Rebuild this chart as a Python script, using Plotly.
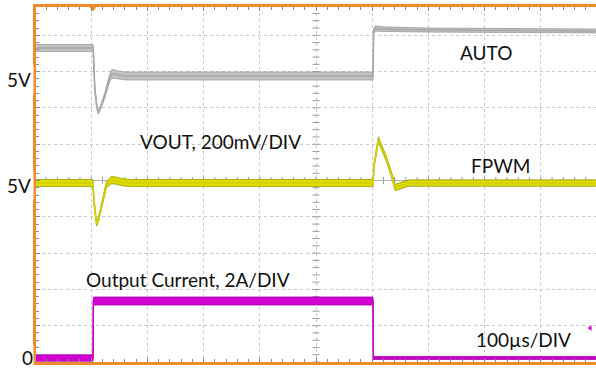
import numpy as np
import plotly.graph_objects as go

# ---------------- data read from the scope capture ----------------
# time axis in microseconds (100 us/DIV)
auto_t      = [0, 103.5, 106.5, 110, 112.5, 116, 124.5, 133, 137, 145, 160, 601.5, 602.5, 606, 620, 700, 998]
auto_v      = [5.154, 5.154, 4.93, 4.83, 4.80, 4.82, 4.895, 4.99, 5.012, 5.008, 5.0, 5.0, 5.245, 5.262, 5.258, 5.253, 5.248]
auto_ripple = [0.039, 0.039, 0.02, 0.02, 0.02, 0.02, 0.03, 0.04, 0.05, 0.044, 0.044, 0.044, 0.03, 0.03, 0.025, 0.022, 0.022]

fpwm_t      = [0, 103, 105, 109.5, 113, 120, 127, 135, 142, 155, 170, 601.5, 603.5, 611, 618, 626, 634, 641, 650, 665, 998]
fpwm_v      = [5.0, 5.0, 4.9, 4.775, 4.80, 4.90, 4.99, 5.015, 5.015, 5.005, 5.0, 5.0, 5.10, 5.24, 5.185, 5.127, 5.05, 4.975, 4.985, 5.0, 5.0]
fpwm_ripple = [0.039, 0.039, 0.03, 0.025, 0.025, 0.03, 0.035, 0.04, 0.04, 0.039, 0.039, 0.039, 0.03, 0.03, 0.03, 0.03, 0.03, 0.035, 0.035, 0.035, 0.035]

iout_t      = [0, 103.3, 103.8, 601.5, 602, 998]
iout_a      = [0, 0, 3.14, 3.14, 0, 0]
iout_ripple = [0.36, 0.36, 0.44, 0.44, 0.17, 0.17]

trigger_time = 103
trigger_level_a = 1.65

labels = {
    "auto": "AUTO",
    "vout": "VOUT, 200mV/DIV",
    "fpwm": "FPWM",
    "iout": "Output Current, 2A/DIV",
    "time": "100µs/DIV",
}

# ---------------- scope screen geometry ----------------
ORANGE = "#f08c2c"
N_DIV_Y = 9.78            # visible vertical divisions
X_RANGE = [1.8, 998.2]
L_MARGIN, PLOT_W = 36, 560
# channel setup: (reference level, scale per div, reference position in div)
ch_auto = (5.0, 0.2, 7.88)
ch_fpwm = (5.0, 0.2, 4.93)
ch_iout = (0.0, 2.0, 0.11)

def ch_range(ch):
    ref, scale, pos = ch
    return [ref - pos * scale, ref + (N_DIV_Y - pos) * scale]

fig = go.Figure()

# reticle centre lines and ticks
fig.add_trace(go.Scatter(x=X_RANGE, y=[5, 5], mode="lines",
                         line=dict(color="#b0b0b0", width=1), hoverinfo="skip", showlegend=False))
tx = np.arange(0, 1000, 20)
fig.add_trace(go.Scatter(x=tx, y=np.full(len(tx), 5.0), mode="markers",
                         marker=dict(symbol="line-ns", size=5, line=dict(color="#9a9a9a", width=1)),
                         hoverinfo="skip", showlegend=False))
ty = np.arange(0, N_DIV_Y, 0.2)
fig.add_trace(go.Scatter(x=np.full(len(ty), 500.0), y=ty, mode="markers",
                         marker=dict(symbol="line-ew", size=5, line=dict(color="#9a9a9a", width=1)),
                         hoverinfo="skip", showlegend=False))


def add_band(t, v, r, yaxis, fill, edge, centre, cw):
    v = np.array(v, float)
    r = np.array(r, float)
    fig.add_trace(go.Scatter(x=t, y=v - r / 2, yaxis=yaxis, mode="lines",
                             line=dict(color=edge, width=0.8), hoverinfo="skip", showlegend=False))
    fig.add_trace(go.Scatter(x=t, y=v + r / 2, yaxis=yaxis, mode="lines", fill="tonexty",
                             fillcolor=fill, line=dict(color=edge, width=0.8),
                             hoverinfo="skip", showlegend=False))
    fig.add_trace(go.Scatter(x=t, y=v, yaxis=yaxis, mode="lines",
                             line=dict(color=centre, width=cw), hoverinfo="skip", showlegend=False))


add_band(auto_t, auto_v, auto_ripple, "y2", "#c2c2c2", "#9c9c9c", "#a8a8a8", 1.6)
add_band(fpwm_t, fpwm_v, fpwm_ripple, "y3", "#dcdc00", "#9a9a00", "#d0d000", 1.6)
add_band(iout_t, iout_a, iout_ripple, "y4", "#d400d4", "#a800a8", "#c800c8", 1.4)

# trigger position marker (top) and channel trigger level marker (right)
fig.add_trace(go.Scatter(x=[trigger_time], y=[N_DIV_Y], mode="markers", cliponaxis=False,
                         marker=dict(symbol="triangle-down", size=9, color=ORANGE),
                         hoverinfo="skip", showlegend=False))
fig.add_trace(go.Scatter(x=[988], y=[trigger_level_a], yaxis="y4", mode="markers",
                         marker=dict(symbol="triangle-left", size=5, color="#d400d4"),
                         hoverinfo="skip", showlegend=False))

FONT = dict(family="Lato, 'Open Sans', sans-serif", size=19, color="#111111")
ann = [
    (486, 5.132, "y2", labels["auto"]),
    (220, 5.228, "y3", labels["vout"]),
    (500, 5.094, "y3", labels["fpwm"]),
    (188, 4.3, "y4", labels["iout"]),
    (523, 1.0, "y4", labels["time"]),
]
annotations = []
for px, yv, yr, txt in ann:
    annotations.append(dict(x=(px - L_MARGIN) / PLOT_W, xref="paper", y=yv, yref=yr,
                            text=txt, showarrow=False, font=FONT,
                            xanchor="center", yanchor="middle"))
# channel reference labels (cover the left border)
for txt, yv, yr, shift, pad in [("5V", 5.0, "y2", -4, 2), ("5V", 5.0, "y3", -2, 2), ("0", 0.0, "y4", 1, 0)]:
    annotations.append(dict(x=-0.003, xref="paper", y=yv, yref=yr, yshift=shift, text=txt,
                            showarrow=False, font=FONT, xanchor="right", yanchor="middle",
                            bgcolor="white", borderpad=pad))

fig.update_layout(
    width=596, height=368,
    margin=dict(l=L_MARGIN, r=0, t=7, b=6, autoexpand=False),
    paper_bgcolor="white", plot_bgcolor="white",
    showlegend=False,
    annotations=annotations,
    xaxis=dict(range=X_RANGE, showline=True, linecolor=ORANGE, linewidth=3, mirror="ticks",
               showgrid=True, gridcolor="#c8c8c8", griddash="dot", gridwidth=1,
               dtick=100, tick0=0, ticks="inside", ticklen=4, tickcolor="#8a8a8a",
               minor=dict(dtick=20, tick0=0, ticks="inside", ticklen=3, tickcolor="#8a8a8a", showgrid=False),
               showticklabels=False, zeroline=False, fixedrange=True),
    yaxis=dict(range=[0, N_DIV_Y], showline=True, linecolor=ORANGE, linewidth=3, mirror=False,
               showgrid=True, gridcolor="#c8c8c8", griddash="dot", gridwidth=1,
               dtick=1, tick0=0, ticks="inside", ticklen=4, tickcolor="#8a8a8a",
               minor=dict(dtick=0.2, tick0=0, ticks="inside", ticklen=3, tickcolor="#8a8a8a", showgrid=False),
               showticklabels=False, zeroline=False, fixedrange=True),
    yaxis2=dict(range=ch_range(ch_auto), overlaying="y", visible=False, fixedrange=True),
    yaxis3=dict(range=ch_range(ch_fpwm), overlaying="y", visible=False, fixedrange=True),
    yaxis4=dict(range=ch_range(ch_iout), overlaying="y", visible=False, fixedrange=True),
)

fig.write_html("out.html", config={"displayModeBar": False},
               post_script="document.body.style.margin='0';document.body.style.overflow='hidden';")
